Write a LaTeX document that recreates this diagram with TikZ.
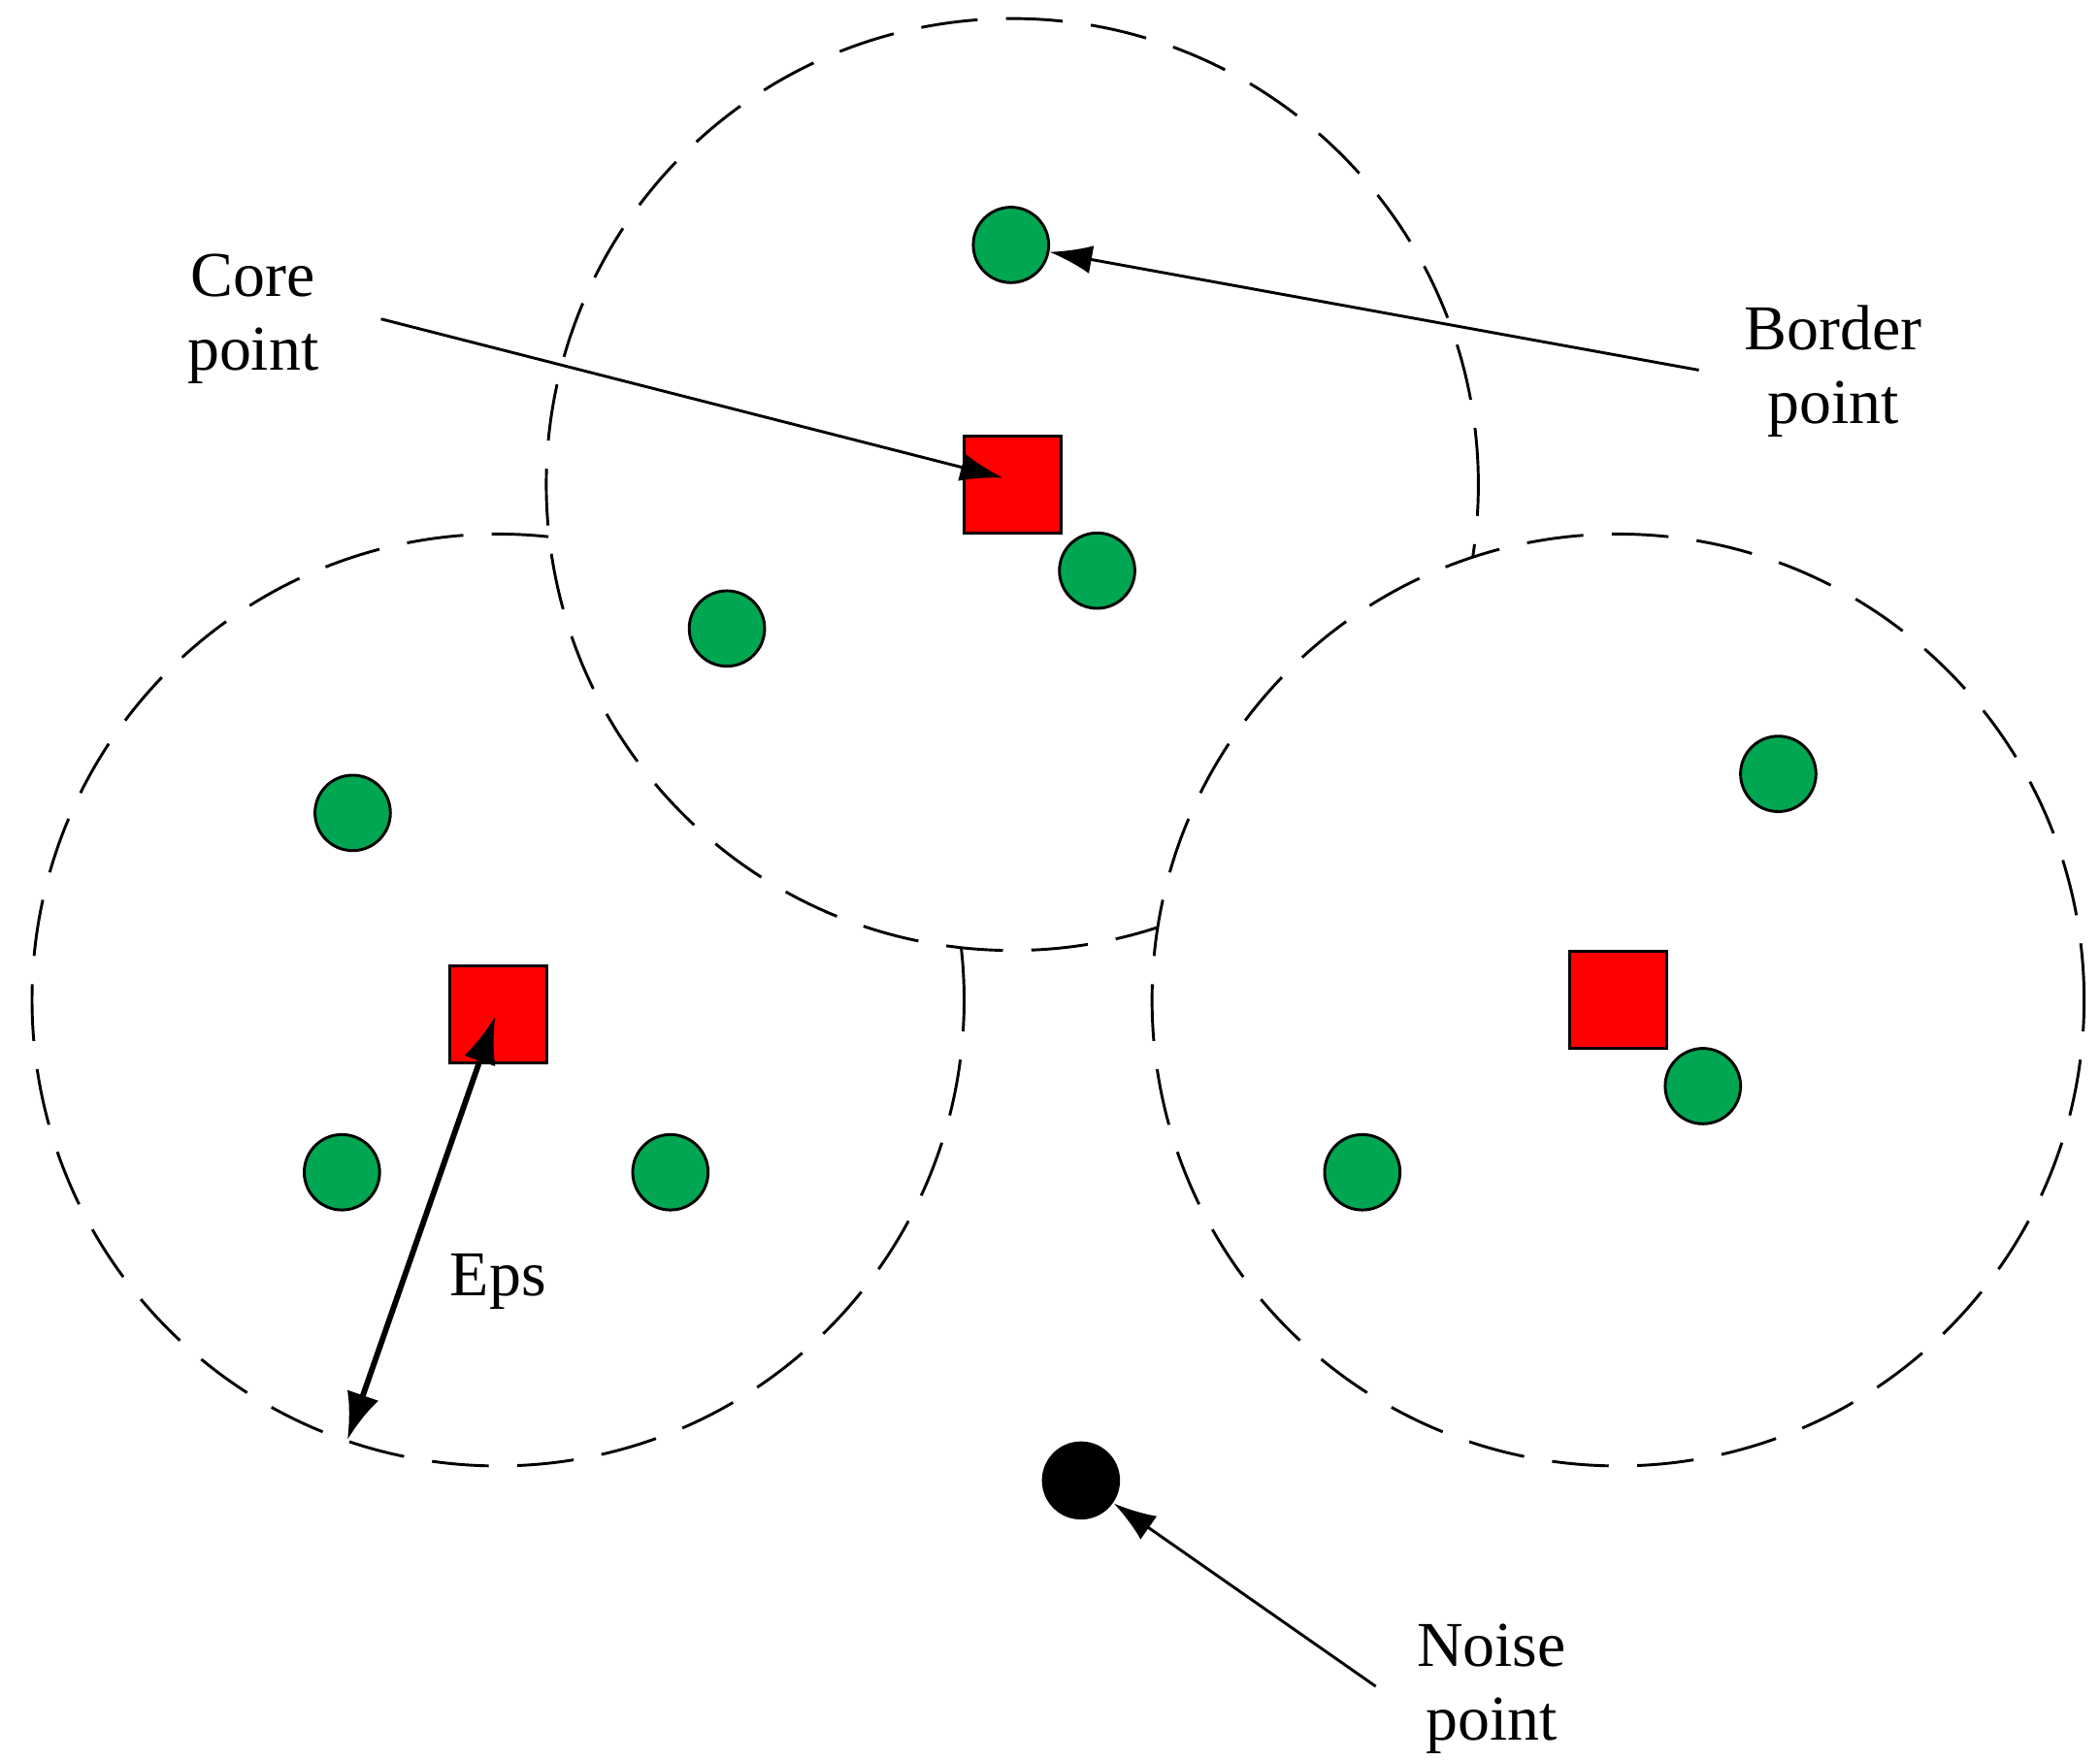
\documentclass[tikz,border=0pt]{standalone}
\usepackage{fontspec}
\setmainfont{Liberation Serif}
\usetikzlibrary{arrows.meta}
\begin{document}
\begin{tikzpicture}[x=0.01cm,y=-0.01cm,
 zone/.style={circle,draw,fill=white,dashed,dash pattern=on 12pt off 6pt,line width=0.6pt,minimum size=6.92cm,inner sep=0},
 core/.style={draw,fill=red,minimum size=0.72cm,inner sep=0,line width=0.6pt},
 bord/.style={circle,draw,fill={rgb,255:red,0;green,166;blue,81},minimum size=0.56cm,inner sep=0,line width=0.6pt},
 noise/.style={circle,fill=black,minimum size=0.58cm,inner sep=0},
 lbl/.style={align=center,font=\fontsize{13.5}{15.5}\selectfont},
 arr/.style={-{Latex[length=9pt,width=6pt]},line width=0.6pt}]
\useasboundingbox (0,0) rectangle (1560,1307);
\node[zone] (z2) at (370,743) {};
\node[zone] (z1) at (752,360) {};
\node[zone] (z3) at (1202,743) {};
\node[core] (c1) at (752,360) {};
\node[core] (c2) at (370,754) {};
\node[core] (c3) at (1202,743) {};
\foreach \n/\x/\y in {b1/751/182,b2/815/424,b3/540/467,b4/262/604,b5/254/871,b6/498/871,b7/1321/575,b8/1265/807,b9/1012/871}
  \node[bord] (\n) at (\x,\y) {};
\node[noise] (n1) at (803,1100) {};
\node[lbl] (tc) at (188,237) {Core\\point};
\node[lbl] (tb) at (1362,276) {Border\\point};
\node[lbl] (te) at (370,952) {Eps};
\node[lbl] (tn) at (1108,1255) {Noise\\point};
\coordinate (cs) at (283,237);
\coordinate (ct) at (745,355);
\coordinate (bs) at (1262,275);
\coordinate (ns) at (1022,1253);
\coordinate (ee) at (258,1070);
\coordinate (es) at (368,755);
\draw[arr] (cs) -- (ct);
\draw[arr] (bs) -- (b1);
\draw[arr] (ns) -- (n1);
\draw[{Latex[length=10pt,width=7pt]}-{Latex[length=10pt,width=7pt]},line width=1.2pt] (ee) -- (es);
\end{tikzpicture}
\end{document}
